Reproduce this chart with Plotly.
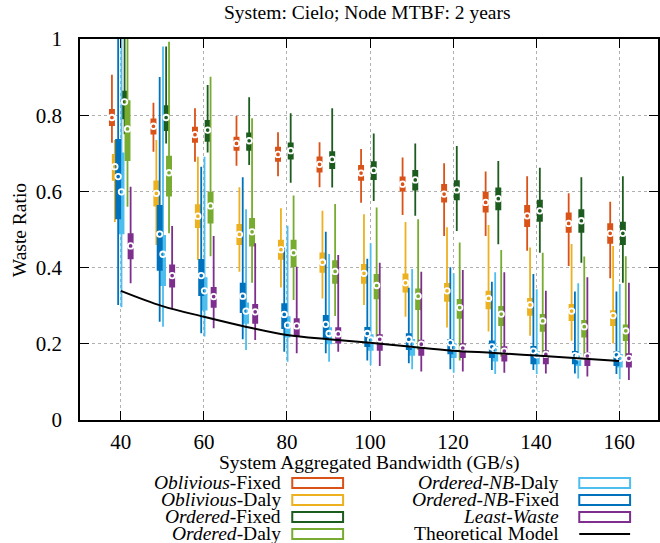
import plotly.graph_objects as go

BANDWIDTH = [40, 50, 60, 70, 80, 90, 100, 110, 120, 130, 140, 150, 160]
X_TICKS = [40, 60, 80, 100, 120, 140, 160]
Y_TICKS = [0, 0.2, 0.4, 0.6, 0.8, 1]
Y_TICK_LABELS = ["0", "0.2", "0.4", "0.6", "0.8", "1"]

# Oblivious-Fixed
OBL_FIXED_LO = [0.728, 0.704, 0.678, 0.667, 0.640, 0.611, 0.570, 0.538, 0.483, 0.483, 0.444, 0.404, 0.372]
OBL_FIXED_Q1 = [0.774, 0.752, 0.730, 0.709, 0.680, 0.652, 0.630, 0.602, 0.573, 0.547, 0.509, 0.494, 0.465]
OBL_FIXED_MED = [0.794, 0.771, 0.749, 0.726, 0.697, 0.671, 0.648, 0.619, 0.593, 0.571, 0.536, 0.516, 0.490]
OBL_FIXED_Q3 = [0.814, 0.789, 0.767, 0.741, 0.715, 0.689, 0.667, 0.637, 0.617, 0.597, 0.562, 0.542, 0.514]
OBL_FIXED_HI = [0.906, 0.833, 0.818, 0.798, 0.755, 0.729, 0.711, 0.689, 0.674, 0.652, 0.640, 0.595, 0.573]

# Oblivious-Daly
OBL_DALY_LO = [0.520, 0.459, 0.420, 0.389, 0.348, 0.319, 0.302, 0.271, 0.243, 0.232, 0.221, 0.208, 0.201]
OBL_DALY_Q1 = [0.630, 0.563, 0.506, 0.462, 0.423, 0.389, 0.360, 0.337, 0.313, 0.293, 0.276, 0.262, 0.249]
OBL_DALY_MED = [0.665, 0.595, 0.535, 0.487, 0.447, 0.414, 0.385, 0.360, 0.339, 0.319, 0.302, 0.286, 0.274]
OBL_DALY_Q3 = [0.696, 0.626, 0.564, 0.512, 0.471, 0.437, 0.407, 0.382, 0.357, 0.337, 0.318, 0.302, 0.286]
OBL_DALY_HI = [0.735, 0.735, 0.691, 0.611, 0.556, 0.549, 0.540, 0.520, 0.506, 0.512, 0.453, 0.462, 0.457]

# Ordered-Fixed
ORD_FIXED_LO = [0.750, 0.726, 0.702, 0.669, 0.623, 0.610, 0.575, 0.536, 0.496, 0.461, 0.439, 0.413, 0.360]
ORD_FIXED_Q1 = [0.792, 0.761, 0.733, 0.709, 0.686, 0.661, 0.632, 0.605, 0.579, 0.553, 0.523, 0.494, 0.462]
ORD_FIXED_MED = [0.835, 0.794, 0.761, 0.733, 0.707, 0.684, 0.655, 0.630, 0.604, 0.581, 0.549, 0.523, 0.490]
ORD_FIXED_Q3 = [0.862, 0.824, 0.785, 0.752, 0.726, 0.703, 0.677, 0.654, 0.627, 0.608, 0.576, 0.551, 0.518]
ORD_FIXED_HI = [1.02, 0.980, 0.879, 0.847, 0.805, 0.818, 0.752, 0.726, 0.719, 0.680, 0.662, 0.637, 0.640]

# Ordered-Daly
ORD_DALY_LO = [0.560, 0.490, 0.430, 0.360, 0.315, 0.273, 0.219, 0.184, 0.156, 0.166, 0.166, 0.166, 0.166]
ORD_DALY_Q1 = [0.682, 0.589, 0.518, 0.458, 0.404, 0.360, 0.319, 0.291, 0.268, 0.249, 0.234, 0.219, 0.210]
ORD_DALY_MED = [0.764, 0.649, 0.562, 0.494, 0.439, 0.390, 0.353, 0.325, 0.295, 0.278, 0.260, 0.245, 0.234]
ORD_DALY_Q3 = [0.837, 0.691, 0.597, 0.528, 0.471, 0.417, 0.381, 0.343, 0.315, 0.297, 0.276, 0.260, 0.248]
ORD_DALY_HI = [1.02, 0.993, 0.901, 0.792, 0.589, 0.567, 0.558, 0.527, 0.466, 0.446, 0.439, 0.429, 0.430]

# Ordered-NB-Daly
NB_DALY_LO = [0.296, 0.245, 0.219, 0.184, 0.153, 0.153, 0.144, 0.133, 0.124, 0.121, 0.121, 0.109, 0.107]
NB_DALY_Q1 = [0.490, 0.354, 0.290, 0.255, 0.219, 0.201, 0.184, 0.171, 0.165, 0.156, 0.149, 0.144, 0.140]
NB_DALY_MED = [0.599, 0.435, 0.339, 0.286, 0.249, 0.227, 0.210, 0.199, 0.190, 0.184, 0.171, 0.166, 0.162]
NB_DALY_Q3 = [0.700, 0.483, 0.372, 0.306, 0.270, 0.241, 0.223, 0.210, 0.199, 0.192, 0.179, 0.173, 0.171]
NB_DALY_HI = [1.02, 0.980, 0.691, 0.553, 0.510, 0.436, 0.464, 0.396, 0.385, 0.388, 0.343, 0.359, 0.357]

# Ordered-NB-Fixed
NB_FIXED_LO = [0.302, 0.258, 0.228, 0.212, 0.179, 0.175, 0.156, 0.149, 0.133, 0.131, 0.131, 0.122, 0.121]
NB_FIXED_Q1 = [0.529, 0.394, 0.328, 0.283, 0.241, 0.214, 0.194, 0.186, 0.175, 0.165, 0.149, 0.149, 0.144]
NB_FIXED_MED = [0.639, 0.488, 0.379, 0.325, 0.277, 0.251, 0.227, 0.212, 0.203, 0.192, 0.181, 0.169, 0.171]
NB_FIXED_Q3 = [0.735, 0.562, 0.420, 0.358, 0.304, 0.273, 0.242, 0.225, 0.210, 0.206, 0.192, 0.179, 0.178]
NB_FIXED_HI = [1.02, 0.900, 0.665, 0.637, 0.452, 0.494, 0.423, 0.347, 0.401, 0.363, 0.383, 0.337, 0.337]

# Least-Waste
LW_LO = [0.359, 0.293, 0.241, 0.210, 0.175, 0.179, 0.142, 0.127, 0.127, 0.124, 0.122, 0.114, 0.105]
LW_Q1 = [0.424, 0.350, 0.297, 0.255, 0.223, 0.203, 0.184, 0.171, 0.165, 0.156, 0.149, 0.144, 0.140]
LW_MED = [0.457, 0.379, 0.324, 0.284, 0.247, 0.226, 0.212, 0.199, 0.189, 0.181, 0.172, 0.168, 0.162]
LW_Q3 = [0.488, 0.406, 0.347, 0.302, 0.265, 0.241, 0.223, 0.208, 0.199, 0.191, 0.181, 0.175, 0.173]
LW_HI = [0.612, 0.509, 0.483, 0.464, 0.402, 0.433, 0.413, 0.389, 0.394, 0.388, 0.339, 0.375, 0.360]

# Theoretical model
THEORY = [0.339, 0.299, 0.271, 0.245, 0.223, 0.212, 0.203, 0.192, 0.182, 0.176, 0.169, 0.162, 0.155]

SERIES = [
    ("<i>Oblivious</i>-Fixed", "#D95319", -2.15, OBL_FIXED_LO, OBL_FIXED_Q1, OBL_FIXED_MED, OBL_FIXED_Q3, OBL_FIXED_HI),
    ("<i>Oblivious</i>-Daly", "#EDB120", -1.45, OBL_DALY_LO, OBL_DALY_Q1, OBL_DALY_MED, OBL_DALY_Q3, OBL_DALY_HI),
    ("<i>Ordered</i>-Fixed", "#1D5C1F", 0.9, ORD_FIXED_LO, ORD_FIXED_Q1, ORD_FIXED_MED, ORD_FIXED_Q3, ORD_FIXED_HI),
    ("<i>Ordered</i>-Daly", "#77AC30", 1.6, ORD_DALY_LO, ORD_DALY_Q1, ORD_DALY_MED, ORD_DALY_Q3, ORD_DALY_HI),
    ("<i>Ordered-NB</i>-Daly", "#4DBEEE", 0.15, NB_DALY_LO, NB_DALY_Q1, NB_DALY_MED, NB_DALY_Q3, NB_DALY_HI),
    ("<i>Ordered-NB</i>-Fixed", "#0072BD", -0.65, NB_FIXED_LO, NB_FIXED_Q1, NB_FIXED_MED, NB_FIXED_Q3, NB_FIXED_HI),
    ("<i>Least-Waste</i>", "#7E2F8E", 2.35, LW_LO, LW_Q1, LW_MED, LW_Q3, LW_HI),
]

FONT = "Liberation Serif, Times New Roman, serif"
FS = 19.5
TICK_FS = 21

W, H = 660, 543
PL, PR, PT, PB = 80, 660, 39, 420   # plot area in pixels


def px_x(px):
    return (px - PL) / (PR - PL)


def px_y(py):
    return (PB - py) / (PB - PT)


fig = go.Figure()

for name, color, off, lo, q1, med, q3, hi in SERIES:
    xs = [b + off for b in BANDWIDTH]
    fig.add_trace(go.Box(
        x=xs, q1=q1, median=med, q3=q3, lowerfence=lo, upperfence=hi,
        orientation="v", width=1.0, whiskerwidth=0,
        fillcolor=color, line=dict(color=color, width=1.8),
        boxpoints=False, showlegend=False, hoverinfo="skip", name=name,
    ))

for name, color, off, lo, q1, med, q3, hi in SERIES:
    xs = [b + off for b in BANDWIDTH]
    fig.add_trace(go.Scatter(
        x=xs, y=med, mode="markers",
        marker=dict(symbol="circle-open", size=5.5, color="white", line=dict(width=1.8, color="white")),
        showlegend=False, hoverinfo="skip",
    ))

fig.add_trace(go.Scatter(
    x=BANDWIDTH, y=THEORY, mode="lines", line=dict(color="black", width=2, shape="spline"),
    showlegend=False, hoverinfo="skip", name="Theoretical Model",
))

# Manual legend (gnuplot style: text then sample)
L_TOP = 482
ROW = 17
legend_items = [(s[0], s[1], "box") for s in SERIES] + [("Theoretical Model", "black", "line")]
shapes = []
annotations = []
for i, (label, color, kind) in enumerate(legend_items):
    col = 0 if i < 4 else 1
    row = i % 4
    y_px = L_TOP + row * ROW
    tx = 284 if col == 0 else 563
    bx0 = 293 if col == 0 else 581
    bx1 = bx0 + 51
    annotations.append(dict(
        x=px_x(tx), y=px_y(y_px), xref="paper", yref="paper", text=label, showarrow=False,
        xanchor="right", yanchor="middle", font=dict(family=FONT, size=FS, color="black"),
    ))
    if kind == "box":
        shapes.append(dict(type="rect", xref="paper", yref="paper",
                           x0=px_x(bx0), x1=px_x(bx1), y0=px_y(y_px + 6), y1=px_y(y_px - 4),
                           line=dict(color=color, width=2), fillcolor="white"))
    else:
        shapes.append(dict(type="line", xref="paper", yref="paper",
                           x0=px_x(bx0), x1=px_x(bx1), y0=px_y(y_px + 1), y1=px_y(y_px + 1),
                           line=dict(color=color, width=2)))

# Axis titles and chart title
annotations.append(dict(x=px_x(368), y=px_y(13), xref="paper", yref="paper",
                        text="System: Cielo; Node MTBF: 2 years", showarrow=False,
                        xanchor="center", yanchor="middle", font=dict(family=FONT, size=FS, color="black")))
annotations.append(dict(x=px_x(371), y=px_y(463), xref="paper", yref="paper",
                        text="System Aggregated Bandwidth (GB/s)", showarrow=False,
                        xanchor="center", yanchor="middle", font=dict(family=FONT, size=FS, color="black")))
annotations.append(dict(x=px_x(20), y=px_y(230), xref="paper", yref="paper",
                        text="Waste Ratio", showarrow=False, textangle=-90,
                        xanchor="center", yanchor="middle", font=dict(family=FONT, size=FS, color="black")))

fig.update_layout(
    width=W, height=H,
    margin=dict(l=PL, r=W - PR, t=PT, b=H - PB),
    plot_bgcolor="white", paper_bgcolor="white",
    boxmode="overlay",
    shapes=shapes, annotations=annotations,
    font=dict(family=FONT, size=TICK_FS, color="black"),
)
fig.update_xaxes(
    range=[30.16, 169.36], tickvals=X_TICKS, ticktext=[str(v) for v in X_TICKS],
    ticks="inside", ticklen=9, tickwidth=1.2, tickcolor="black",
    showline=True, linecolor="black", linewidth=1.5, mirror="ticks",
    showgrid=True, gridcolor="#b0b0b0", griddash="dot", gridwidth=1,
    zeroline=False, ticklabelstandoff=2,
)
fig.update_yaxes(
    range=[0, 1], tickvals=Y_TICKS, ticktext=Y_TICK_LABELS,
    ticks="inside", ticklen=9, tickwidth=1.2, tickcolor="black",
    showline=True, linecolor="black", linewidth=1.5, mirror="ticks",
    showgrid=True, gridcolor="#b0b0b0", griddash="dot", gridwidth=1,
    zeroline=False, ticklabelstandoff=12,
)

fig.write_html("out.html", config={"displayModeBar": False},
               post_script="document.body.style.margin='0';document.body.style.padding='0';")
